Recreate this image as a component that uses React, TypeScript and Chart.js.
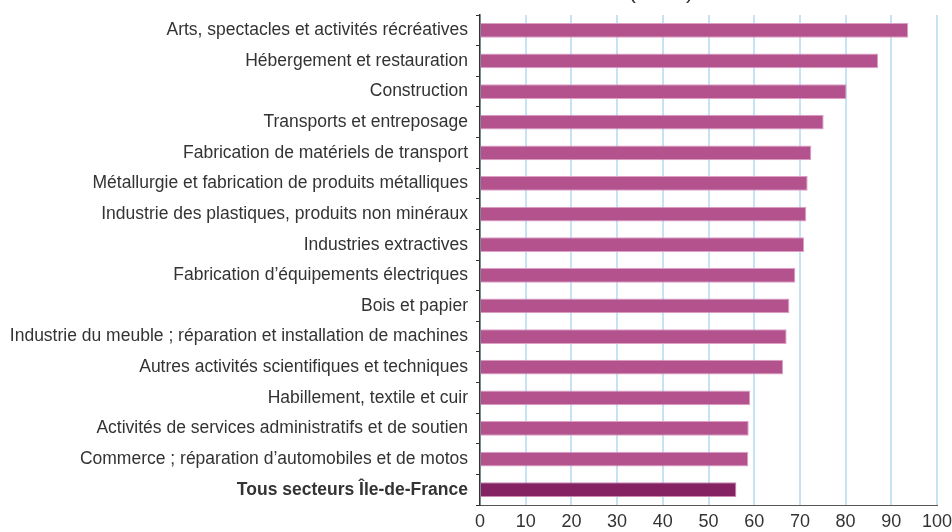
import React, { useEffect, useRef } from "react";
import { Chart, registerables } from "chart.js";

Chart.register(...registerables);

const categories = [
  "Arts, spectacles et activités récréatives",
  "Hébergement et restauration",
  "Construction",
  "Transports et entreposage",
  "Fabrication de matériels de transport",
  "Métallurgie et fabrication de produits métalliques",
  "Industrie des plastiques, produits non minéraux",
  "Industries extractives",
  "Fabrication d’équipements électriques",
  "Bois et papier",
  "Industrie du meuble ; réparation et installation de machines",
  "Autres activités scientifiques et techniques",
  "Habillement, textile et cuir",
  "Activités de services administratifs et de soutien",
  "Commerce ; réparation d’automobiles et de motos",
  "Tous secteurs Île-de-France",
];

const values = [93.7, 87.1, 80.2, 75.2, 72.5, 71.7, 71.4, 70.9, 69.0, 67.7, 67.1, 66.3, 59.1, 58.8, 58.7, 56.1];

const xTicks = [0, 10, 20, 30, 40, 50, 60, 70, 80, 90, 100];

const titleText = "(en %)";

const FONT = "'Liberation Sans', Arial, sans-serif";
const BAR = "#b4528e";
const BAR_TOTAL = "#852262";

export default function App() {
  const ref = useRef<HTMLCanvasElement | null>(null);

  useEffect(() => {
    if (!ref.current) return;
    const last = categories.length - 1;
    const titlePlugin = {
      id: "cutTitle",
      afterDraw(chart: any) {
        const ctx = chart.ctx;
        ctx.save();
        ctx.font = `22px ${FONT}`;
        ctx.fillStyle = "#333333";
        ctx.textAlign = "center";
        ctx.textBaseline = "alphabetic";
        ctx.fillText(titleText, 661, -2);
        ctx.restore();
      },
    };
    const chart = new Chart(ref.current, {
      type: "bar",
      data: {
        labels: categories,
        datasets: [
          {
            data: values,
            backgroundColor: values.map((_, i) => (i === last ? BAR_TOTAL : BAR)),
            borderColor: values.map((_, i) => (i === last ? "#c88ab0" : "#dba0c4")),
            borderWidth: 1,
            categoryPercentage: 1,
            barPercentage: 0.48,
          },
        ],
      },
      options: {
        indexAxis: "y",
        animation: false,
        responsive: false,
        maintainAspectRatio: false,
        layout: { padding: { top: 15, right: 15, bottom: 0, left: 0 } },
        plugins: {
          legend: { display: false },
          tooltip: { enabled: false },
          title: { display: false },
        },
        scales: {
          x: {
            min: 0,
            max: 100,
            afterBuildTicks: (scale: any) => {
              scale.ticks = xTicks.map((v) => ({ value: v }));
            },
            afterFit: (scale: any) => {
              scale.height = 27;
              scale.paddingLeft = 0;
              scale.paddingRight = 0;
            },
            grid: {
              color: "#c6e2f5",
              lineWidth: 2,
              drawTicks: false,
            },
            border: { display: true, color: "#555555", width: 1 },
            ticks: {
              color: "#333333",
              padding: 6,
              font: { family: FONT, size: 18 },
            },
          },
          y: {
            afterFit: (scale: any) => {
              scale.width = 480;
              scale.paddingTop = 0;
              scale.paddingBottom = 0;
            },
            grid: {
              drawOnChartArea: false,
              drawTicks: true,
              tickLength: 4,
              color: "#333333",
              lineWidth: 1,
            },
            border: { display: true, color: "#333333", width: 1.5 },
            ticks: {
              color: "#333333",
              padding: 8,
              autoSkip: false,
              font: (ctx: any) => ({
                family: FONT,
                size: 17.5,
                weight: ctx.index === last ? "bold" : "normal",
              }),
            },
          },
        },
      },
      plugins: [titlePlugin],
    });
    return () => chart.destroy();
  }, []);

  return (
    <div style={{ position: "fixed", left: 0, top: 0, width: 952, height: 532, background: "#fff" }}>
      <canvas ref={ref} width={952} height={532} style={{ width: 952, height: 532, display: "block" }} />
    </div>
  );
}
